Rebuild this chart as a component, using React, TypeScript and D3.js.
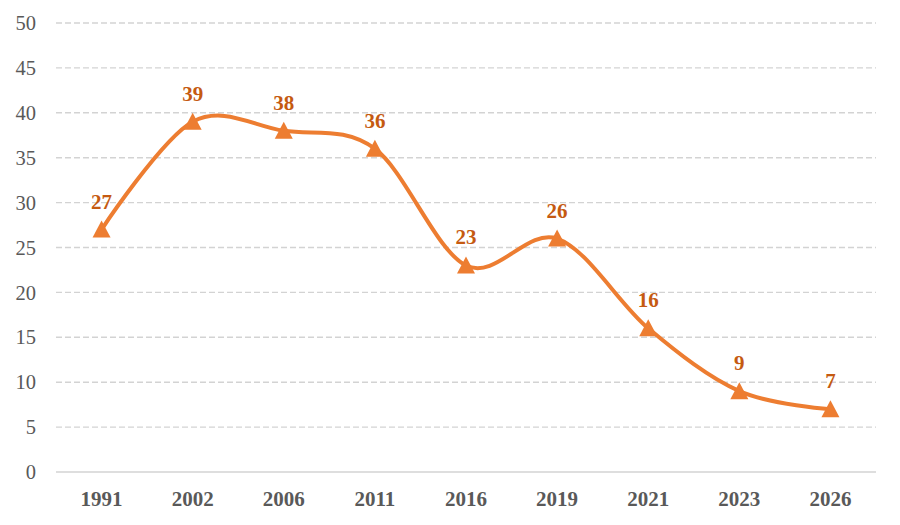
import React from "react";
import { scaleBand, scaleLinear, line, curveCardinal, range } from "d3";

const years = ["1991", "2002", "2006", "2011", "2016", "2019", "2021", "2023", "2026"];
const values = [27, 39, 38, 36, 23, 26, 16, 9, 7];
const yTicks = range(0, 55, 5);

const W = 900;
const H = 525;
const margin = { top: 23, right: 24, bottom: 53, left: 56 };

const App: React.FC = () => {
  const x = scaleBand()
    .domain(years)
    .range([margin.left, W - margin.right]);

  const y = scaleLinear()
    .domain([0, 50])
    .range([H - margin.bottom, margin.top]);

  const cx = (d: string) => (x(d) ?? 0) + x.bandwidth() / 2;

  const path = line<number>()
    .x((_, i) => cx(years[i]))
    .y((d) => y(d))
    .curve(curveCardinal.tension(0))(values);

  const font = "'Liberation Serif', 'Times New Roman', serif";

  return (
    <svg
      width={W}
      height={H}
      style={{ position: "absolute", left: 0, top: 0, background: "#fff" }}
    >
      {yTicks.map((t) => (
        <g key={t}>
          <line
            x1={margin.left}
            x2={W - margin.right}
            y1={y(t)}
            y2={y(t)}
            stroke="#D3D3D3"
            strokeWidth={1.4}
            strokeDasharray={t === 0 ? undefined : "6,3"}
          />
          <text
            x={36}
            y={y(t)}
            dy="0.35em"
            textAnchor="end"
            fontFamily={font}
            fontSize={20.5}
            fill="#595959"
          >
            {t}
          </text>
        </g>
      ))}
      {years.map((yr) => (
        <text
          key={yr}
          x={cx(yr)}
          y={H - margin.bottom + 34}
          textAnchor="middle"
          fontFamily={font}
          fontSize={21}
          fontWeight="bold"
          fill="#595959"
        >
          {yr}
        </text>
      ))}
      <path d={path ?? ""} fill="none" stroke="#ED7D31" strokeWidth={4} strokeLinecap="round" />
      {values.map((v, i) => {
        const px = cx(years[i]);
        const py = y(v);
        return (
          <g key={i}>
            <path
              d={`M${px},${py - 9}L${px + 9},${py + 8}L${px - 9},${py + 8}Z`}
              fill="#ED7D31"
            />
            <text
              x={px}
              y={py - 21}
              textAnchor="middle"
              fontFamily={font}
              fontSize={21}
              fontWeight="bold"
              fill="#C55A11"
            >
              {v}
            </text>
          </g>
        );
      })}
    </svg>
  );
};

export default App;
